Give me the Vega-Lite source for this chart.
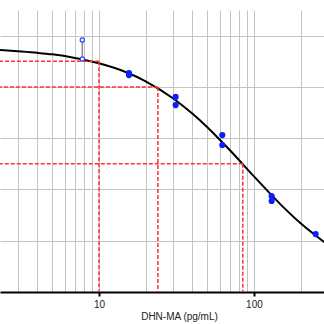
{
  "$schema": "https://vega.github.io/schema/vega-lite/v6.json",
  "width": 324,
  "height": 282,
  "autosize": {"type": "none"},
  "padding": {"left": 0, "top": 10, "right": 0, "bottom": 32},
  "background": "white",
  "config": {"view": {"stroke": null}},
  "datasets": {
    "curve": [
      {"conc": 2.3, "pct": 94.4},
      {"conc": 3, "pct": 93.9},
      {"conc": 4, "pct": 93.3},
      {"conc": 5, "pct": 92.7},
      {"conc": 7, "pct": 91.3},
      {"conc": 10, "pct": 89.2},
      {"conc": 15, "pct": 85.7},
      {"conc": 20, "pct": 82.2},
      {"conc": 30, "pct": 75.6},
      {"conc": 40, "pct": 69.6},
      {"conc": 50, "pct": 64.3},
      {"conc": 70, "pct": 55.3},
      {"conc": 100, "pct": 45.1},
      {"conc": 150, "pct": 33.9},
      {"conc": 200, "pct": 26.8},
      {"conc": 285, "pct": 19.4}
    ],
    "points": [
      {"conc": 15.625, "pct": 85.4},
      {"conc": 15.625, "pct": 84.6},
      {"conc": 31.25, "pct": 76.1},
      {"conc": 31.25, "pct": 72.9},
      {"conc": 62.5, "pct": 61.2},
      {"conc": 62.5, "pct": 57.3},
      {"conc": 130, "pct": 37.4},
      {"conc": 130, "pct": 35.5},
      {"conc": 250, "pct": 22.6}
    ],
    "masked": [
      {"conc": 7.8125, "pct": 98.3, "low": 90.9},
      {"conc": 7.8125, "pct": 90.9, "low": 90.9}
    ],
    "ic": [
      {"conc": 10, "pct": 90},
      {"conc": 24, "pct": 80},
      {"conc": 84.7, "pct": 50}
    ]
  },
  "layer": [
    {
      "data": {"name": "curve"},
      "mark": {"type": "line", "color": "black", "strokeWidth": 2, "clip": true, "interpolate": "monotone"},
      "encoding": {
        "x": {
          "field": "conc", "type": "quantitative",
          "scale": {"type": "log", "domain": [2.3, 283], "nice": false},
          "axis": {
            "values": [3, 4, 5, 6, 7, 8, 9, 10, 20, 30, 40, 50, 60, 70, 80, 90, 100, 200],
            "grid": true, "gridColor": "#c4c4c4", "gridWidth": 1,
            "domainColor": "black", "domainWidth": 2,
            "tickColor": {"condition": {"test": "datum.value == 10 || datum.value == 100", "value": "black"}, "value": "transparent"},
            "tickWidth": 2, "tickSize": 4,
            "labelExpr": "datum.value == 10 ? '10' : (datum.value == 100 ? '100' : '')",
            "labelFont": "Liberation Sans", "labelFontSize": 10, "labelColor": "#222", "labelPadding": 3,
            "title": "DHN-MA (pg/mL)",
            "titleFont": "Liberation Sans", "titleFontSize": 10, "titleFontWeight": "normal", "titleColor": "#222",
            "titleX": 179, "titleY": 27, "titleBaseline": "alphabetic", "titleAnchor": "middle"
          }
        },
        "y": {
          "field": "pct", "type": "quantitative",
          "scale": {"domain": [0, 110], "nice": false},
          "axis": {
            "values": [0, 10, 20, 30, 40, 50, 60, 70, 80, 90, 100, 110],
            "grid": true, "gridColor": "#c4c4c4", "gridWidth": 1,
            "labels": false, "ticks": false, "domain": false, "title": null
          }
        }
      }
    },
    {
      "data": {"name": "ic"},
      "mark": {"type": "rule", "color": "#ff3030", "strokeWidth": 1.5, "strokeDash": [4, 2], "clip": true},
      "encoding": {
        "x": {"field": "conc", "type": "quantitative"},
        "x2": {"datum": 2.3},
        "y": {"field": "pct", "type": "quantitative"}
      }
    },
    {
      "data": {"name": "ic"},
      "mark": {"type": "rule", "color": "#ff3030", "strokeWidth": 1.5, "strokeDash": [4, 2], "clip": true},
      "encoding": {
        "x": {"field": "conc", "type": "quantitative"},
        "y": {"field": "pct", "type": "quantitative"},
        "y2": {"datum": 0}
      }
    },
    {
      "data": {"name": "masked"},
      "mark": {"type": "rule", "color": "#888888", "strokeWidth": 1.5},
      "encoding": {
        "x": {"field": "conc", "type": "quantitative"},
        "y": {"field": "pct", "type": "quantitative"},
        "y2": {"field": "low"}
      }
    },
    {
      "data": {"name": "masked"},
      "mark": {"type": "point", "shape": "circle", "filled": false, "color": "#3344ff", "strokeWidth": 1.2, "size": 18, "fill": "white", "fillOpacity": 1},
      "encoding": {
        "x": {"field": "conc", "type": "quantitative"},
        "y": {"field": "pct", "type": "quantitative"}
      }
    },
    {
      "data": {"name": "points"},
      "mark": {"type": "circle", "color": "#0a1eff", "opacity": 1, "size": 38, "clip": true},
      "encoding": {
        "x": {"field": "conc", "type": "quantitative"},
        "y": {"field": "pct", "type": "quantitative"}
      }
    }
  ]
}
